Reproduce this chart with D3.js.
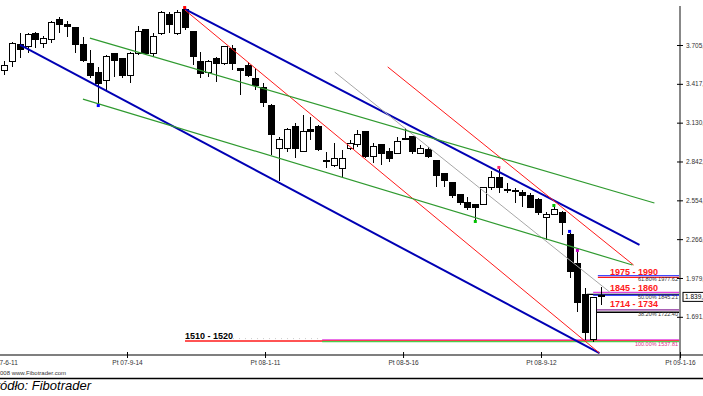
<!DOCTYPE html>
<html lang="pl">
<head>
    <meta charset="UTF-8">
    <title>WIG20 - Fibotrader</title>
    <script src="https://cdn.jsdelivr.net/npm/d3@7"></script>
    <style>
        body { margin: 0; background: #fff; }
        svg { display: block; font-family: Arial, "Liberation Sans", sans-serif; }
        .wick { stroke: #000; stroke-width: 1; shape-rendering: crispEdges; }
        .body { stroke: #000; stroke-width: 1; shape-rendering: crispEdges; }
        .axis text { fill: #333; font-size: 6.5px; }
        .axis line { stroke: #000; }
    </style>
</head>
<body>
<svg id="chart" width="703" height="396"></svg>
<script>
    // weekly candles, Jun 2007 - Oct 2008
    var candleOpen = [3520, 3580, 3713, 3691, 3794, 3720, 3743, 3891, 3861, 3832,
        3713, 3565, 3505, 3439, 3646, 3602, 3476, 3646, 3817, 3646,
        3794, 3935, 3794, 3965, 3802, 3580, 3505, 3609, 3572, 3683,
        3535, 3557, 3461, 3394, 3254, 2942, 2935, 3105, 2913, 3076,
        3105, 2846, 2816, 2794, 2942, 2965, 3061, 2876, 2965, 2913,
        2905, 3016, 3031, 2905, 2928, 2846, 2750, 2683, 2601, 2535,
        2520, 2527, 2646, 2720, 2638, 2631, 2616, 2587, 2557, 2424,
        2453, 2468, 2298, 2083, 1853, 1520, 1846];
    var candleHigh = [3587, 3728, 3794, 3794, 3802, 3772, 3883, 3913, 3883, 3832,
        3765, 3669, 3543, 3631, 3646, 3609, 3654, 3846, 3817, 3794,
        3957, 3950, 3965, 3972, 3802, 3654, 3594, 3617, 3691, 3706,
        3535, 3580, 3535, 3424, 3268, 3024, 3091, 3128, 3187, 3172,
        3113, 2913, 2979, 2928, 3002, 3076, 3068, 2979, 2965, 2942,
        3024, 3091, 3031, 2965, 2950, 2846, 2750, 2690, 2601, 2579,
        2527, 2653, 2772, 2787, 2683, 2646, 2631, 2609, 2572, 2468,
        2505, 2476, 2313, 2172, 1905, 1838, 1912];
    var candleLow = [3483, 3543, 3609, 3646, 3683, 3683, 3720, 3794, 3765, 3646,
        3580, 3461, 3268, 3372, 3468, 3461, 3424, 3631, 3631, 3617,
        3780, 3794, 3780, 3817, 3557, 3461, 3468, 3431, 3557, 3520,
        3335, 3468, 3372, 3246, 2890, 2698, 2913, 2868, 2913, 3002,
        2920, 2794, 2802, 2720, 2928, 2950, 2868, 2831, 2816, 2839,
        2905, 3002, 2898, 2898, 2868, 2653, 2653, 2572, 2520, 2483,
        2409, 2520, 2631, 2609, 2609, 2535, 2505, 2498, 2446, 2261,
        2446, 2298, 1979, 1727, 1520, 1505, 1779];
    var candleClose = [3557, 3720, 3669, 3787, 3743, 3757, 3869, 3861, 3839, 3713,
        3594, 3476, 3417, 3624, 3594, 3476, 3646, 3809, 3646, 3772,
        3943, 3861, 3943, 3832, 3617, 3498, 3580, 3572, 3691, 3572,
        3520, 3483, 3409, 3276, 3039, 3002, 3076, 2935, 3061, 3068,
        2928, 2843, 2868, 2868, 2979, 3039, 2876, 2957, 2905, 2868,
        2987, 3009, 2913, 2935, 2876, 2735, 2698, 2594, 2535, 2505,
        2505, 2646, 2727, 2646, 2631, 2624, 2594, 2505, 2468, 2453,
        2490, 2387, 2024, 1801, 1572, 1838, 1839];

    var yTickValues = [3705.6, 3417.8, 3130.1, 2842.3, 2554.5, 2266.8, 1979.1, 1691.4];
    var xTickIndex = [-0.2, 15.66, 33.23, 50.8, 68.36, 86.06];
    var xTickLabels = ["Pt 07-6-11", "Pt 07-9-14", "Pt 08-1-11", "Pt 08-5-16", "Pt 08-9-12", "Pt 09-1-16"];

    // trend lines: [candle index, value] at each end
    var trendNames = ["blue", "blue", "red", "red", "grey", "green", "green"];
    var trendFrom = [[2.04, 3706], [23.03, 3972], [23.03, 3965], [48.85, 3543], [42.1, 3505], [10.94, 3757], [10.05, 3305]];
    var trendTo = [[75.8, 1423], [80.9, 2224], [75.8, 1423], [80.15, 2075], [77.1, 1875], [82.8, 2535], [80.0, 2075]];

    // horizontal levels, drawn from a candle index to the axis
    var levelValues = [1996, 1984, 1873, 1858, 1851, 1742, 1725, 1520, 1512, 1507];
    var levelFrom = [75.6, 75.6, 75, 74.2, 75, 75, 75, 40.5, 23.04, 40.5];
    var levelNames = ["blue", "red", "magenta", "black", "blue", "purple", "black", "magenta", "red", "green"];

    var zoneLabels = ["1975 - 1990", "1845 - 1860", "1714 - 1734", "1510 - 1520"];
    var zoneLevel = [0, 2, 5, 8];
    var fiboLabels = ["61.80% 1977.62", "50.00% 1845.21", "38.20% 1722.40", "100.00% 1537.81"];
    var fiboLevel = [1, 4, 6, 9];

    var pivotIndex = [23, 12, 60, 63, 70, 72, 73];
    var pivotKind = ["high", "low", "low", "high", "high", "high", "high"];
    var pivotNames = ["red", "blue", "green", "pink", "green", "blue", "magenta"];

    var palette = {
        blue: "#0000b4", red: "#ff1a1a", grey: "#a8a8a8", green: "#2f9a2f",
        magenta: "#d63cd6", black: "#000", purple: "#8a2a9a", pink: "#ff3070"
    };
    var levelPalette = {
        blue: "#3f48ff", red: "#ff1a1a", magenta: "#e040e0", black: "#000",
        purple: "#8a2a9a", green: "#4ccc4c"
    };
    var pivotPalette = {
        red: "#ff0000", blue: "#0000ff", green: "#00c000", pink: "#ff2a6a", magenta: "#c000c0"
    };

    var svg = d3.select("#chart");
    var axisX = 680, axisY = 355;

    var x = d3.scaleLinear().domain([0, 76]).range([4, 601]);
    var y = d3.scaleLinear().domain([1691.4, 3705.6]).range([316.8, 45]);

    var plFormat = d3.formatLocale({decimal: ",", thousands: ".", grouping: [3], currency: ["", ""]}).format(",.1f");

    var candles = d3.range(candleOpen.length).map(function (i) {
        return {i: i, o: candleOpen[i], h: candleHigh[i], l: candleLow[i], c: candleClose[i]};
    });

    // horizontal levels
    svg.append("g").selectAll("line")
        .data(levelValues)
        .enter().append("line")
        .attr("x1", function (d, k) { return x(levelFrom[k]); })
        .attr("x2", axisX)
        .attr("y1", function (d) { return y(d); })
        .attr("y2", function (d) { return y(d); })
        .attr("stroke", function (d, k) { return levelPalette[levelNames[k]]; })
        .attr("stroke-width", 1.3);

    // faint dotted guide near the low
    svg.append("line")
        .attr("x1", 233).attr("x2", 320)
        .attr("y1", y(1530)).attr("y2", y(1530))
        .attr("stroke", "#ccc").attr("stroke-dasharray", "1,5");

    // candles
    var cg = svg.append("g");
    cg.selectAll("line.wick")
        .data(candles)
        .enter().append("line")
        .attr("class", "wick")
        .attr("x1", function (d) { return Math.round(x(d.i)) + 0.5; })
        .attr("x2", function (d) { return Math.round(x(d.i)) + 0.5; })
        .attr("y1", function (d) { return y(d.h); })
        .attr("y2", function (d) { return y(d.l); });

    cg.selectAll("rect.body")
        .data(candles)
        .enter().append("rect")
        .attr("class", "body")
        .attr("x", function (d) { return Math.round(x(d.i)) - 2.5; })
        .attr("y", function (d) { return y(Math.max(d.o, d.c)); })
        .attr("width", 6)
        .attr("height", function (d) { return Math.max(1, Math.abs(y(d.o) - y(d.c))); })
        .attr("fill", function (d) { return d.c >= d.o ? "#fff" : "#000"; });

    // trend lines
    svg.append("g").selectAll("line")
        .data(trendNames)
        .enter().append("line")
        .attr("x1", function (d, k) { return x(trendFrom[k][0]); })
        .attr("y1", function (d, k) { return y(trendFrom[k][1]); })
        .attr("x2", function (d, k) { return x(trendTo[k][0]); })
        .attr("y2", function (d, k) { return y(trendTo[k][1]); })
        .attr("stroke", function (d) { return palette[d]; })
        .attr("stroke-width", function (d) { return d === "blue" ? 2 : (d === "green" ? 1.2 : 1); });

    // pivot markers
    svg.append("g").selectAll("rect")
        .data(pivotIndex)
        .enter().append("rect")
        .attr("x", function (d) { return x(d) - 1.5; })
        .attr("y", function (d, k) {
            var c = candles[d];
            return (pivotKind[k] === "high" ? y(c.h) - 3 : y(c.l)) - 0;
        })
        .attr("width", 3).attr("height", 3)
        .attr("fill", function (d, k) { return pivotPalette[pivotNames[k]]; });

    // zone labels
    var zoneDy = [-1, -1.5, -3, -2];
    svg.append("g").selectAll("text")
        .data(zoneLabels)
        .enter().append("text")
        .attr("x", function (d, k) { return k === 3 ? x(23.04) : 610; })
        .attr("y", function (d, k) { return y(levelValues[zoneLevel[k]]) + zoneDy[k]; })
        .attr("font-size", "9px")
        .attr("font-weight", "bold")
        .attr("fill", function (d, k) { return k === 3 ? "#000" : "#ff1a1a"; })
        .text(function (d) { return d; });

    svg.append("g").selectAll("text")
        .data(fiboLabels)
        .enter().append("text")
        .attr("x", 678)
        .attr("y", function (d, k) { return y(levelValues[fiboLevel[k]]) + 4; })
        .attr("text-anchor", "end")
        .attr("font-size", "5.5px")
        .attr("fill", function (d, k) { return k === 3 ? "#e0308a" : "#333"; })
        .text(function (d) { return d; });

    // right axis
    svg.append("line")
        .attr("x1", axisX).attr("x2", axisX)
        .attr("y1", 6).attr("y2", 360)
        .attr("stroke", "#888").attr("stroke-width", 2);

    var yAxis = svg.append("g")
        .attr("class", "axis")
        .attr("transform", "translate(" + axisX + ",0)")
        .call(d3.axisRight(y).tickValues(yTickValues).tickSize(3).tickPadding(3).tickFormat(plFormat));
    yAxis.select(".domain").remove();
    yAxis.selectAll(".tick line").attr("x1", -3).attr("x2", 3);

    // last price box
    var last = candles[candles.length - 1];
    var box = svg.append("g").attr("transform", "translate(683," + y(last.c) + ")");
    box.append("rect")
        .attr("x", 0).attr("y", -4.5)
        .attr("width", 30).attr("height", 9)
        .attr("fill", "#fff").attr("stroke", "#000");
    box.append("text")
        .attr("x", 2).attr("y", 2.3)
        .attr("font-size", "6.5px").attr("fill", "#000")
        .text(plFormat(last.c));

    // bottom axis
    svg.append("line")
        .attr("x1", 0).attr("x2", 703)
        .attr("y1", axisY).attr("y2", axisY)
        .attr("stroke", "#555").attr("stroke-width", 1.5);

    var xAxis = svg.append("g")
        .attr("class", "axis")
        .attr("transform", "translate(0," + axisY + ")")
        .call(d3.axisBottom(x).tickValues(xTickIndex).tickSize(3).tickPadding(2)
            .tickFormat(function (d, k) { return xTickLabels[k]; }));
    xAxis.select(".domain").remove();
    xAxis.selectAll(".tick line").attr("y1", -3).attr("y2", 3);
    xAxis.select(".tick line").remove();

    // footer
    var copy = svg.append("text")
        .attr("y", 375)
        .attr("font-size", "6px")
        .attr("fill", "#333")
        .text("© 2008 www.Fibotrader.com");
    copy.attr("x", -copy.node().getSubStringLength(0, 3));

    svg.append("line")
        .attr("x1", 0).attr("x2", 703)
        .attr("y1", 378.5).attr("y2", 378.5)
        .attr("stroke", "#000").attr("stroke-width", 1.3);

    var source = svg.append("text")
        .attr("y", 390)
        .attr("font-size", "13px")
        .attr("font-style", "italic")
        .attr("fill", "#000")
        .text("Źródło: Fibotrader");
    source.attr("x", -source.node().getSubStringLength(0, 2));
</script>
</body>
</html>
